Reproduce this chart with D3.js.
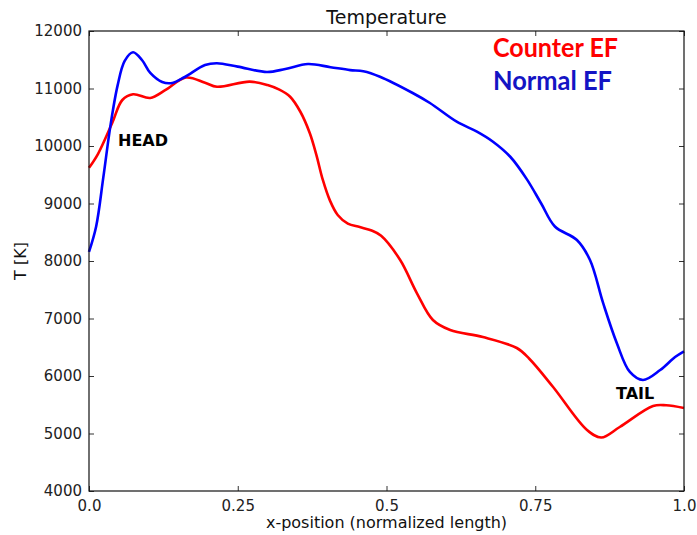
<!DOCTYPE html>
<html><head><meta charset="utf-8">
<script src="https://cdn.jsdelivr.net/npm/d3@7"></script>
<style>body{margin:0;background:#fff}svg{display:block}</style>
</head><body><svg id="c" width="697" height="535"></svg>
<script>
const counterX = [0.000,0.015,0.039,0.056,0.074,0.103,0.128,0.163,0.195,0.215,0.270,0.300,0.320,0.338,0.355,0.371,0.382,0.393,0.405,0.418,0.435,0.455,0.475,0.491,0.523,0.551,0.578,0.607,0.662,0.719,0.740,0.780,0.837,0.861,0.892,0.948,0.970,1.000];
const counterT = [9620,9860,10400,10800,10900,10835,10970,11190,11100,11030,11120,11060,10980,10857,10600,10226,9850,9409,9050,8800,8650,8590,8530,8440,8017,7443,6974,6800,6678,6487,6300,5809,5061,4930,5113,5478,5490,5443];
const normalX = [0.000,0.012,0.024,0.036,0.048,0.060,0.074,0.089,0.103,0.123,0.140,0.161,0.195,0.215,0.250,0.299,0.330,0.368,0.406,0.439,0.461,0.489,0.544,0.573,0.618,0.652,0.679,0.708,0.736,0.760,0.783,0.820,0.842,0.864,0.887,0.909,0.931,0.960,0.985,1.000];
const normalT = [8157,8600,9450,10350,11050,11480,11630,11496,11270,11113,11096,11200,11409,11440,11380,11287,11340,11426,11370,11320,11300,11205,10922,10748,10423,10250,10075,9813,9420,9000,8600,8365,8017,7270,6574,6070,5930,6104,6330,6430];
const xTicks = [0, 0.25, 0.5, 0.75, 1.0];
const xTickLabels = ["0.0","0.25","0.5","0.75","1.0"];
const yTicks = [4000,5000,6000,7000,8000,9000,10000,11000,12000];
const title = "Temperature";
const xLabel = "x-position (normalized length)";
const yLabel = "T [K]";

const svg = d3.select("#c");
const L = 89, R = 684, T = 31, B = 491;
const x = d3.scaleLinear().domain([0,1]).range([L,R]);
const y = d3.scaleLinear().domain([4000,12000]).range([B,T]);
const font = "'DejaVu Sans', sans-serif";

const line = d3.line().x(d=>x(d[0])).y(d=>y(d[1])).curve(d3.curveCatmullRom.alpha(0.5));
const g = svg.append("g");
g.append("path").datum(counterX.map((v,i)=>[v,counterT[i]])).attr("d",line)
  .attr("fill","none").attr("stroke","#ff0000").attr("stroke-width",2.6);
g.append("path").datum(normalX.map((v,i)=>[v,normalT[i]])).attr("d",line)
  .attr("fill","none").attr("stroke","#0000ff").attr("stroke-width",2.6);

const ax = (sel)=>sel.selectAll("text").attr("font-family",font).attr("font-size",15).attr("fill","#222");
svg.append("g").attr("transform",`translate(0,${B})`)
  .call(d3.axisBottom(x).tickValues(xTicks).tickFormat((d,i)=>xTickLabels[i]).tickSizeInner(-5).tickSizeOuter(0).tickPadding(9))
  .call(s=>{s.select(".domain").remove(); ax(s); s.selectAll("line").attr("stroke","#333");});
svg.append("g").attr("transform",`translate(0,${T})`)
  .call(d3.axisTop(x).tickValues(xTicks).tickFormat("").tickSizeInner(-5).tickSizeOuter(0))
  .call(s=>{s.select(".domain").remove(); s.selectAll("line").attr("stroke","#333");});
svg.append("g").attr("transform",`translate(${L},0)`)
  .call(d3.axisLeft(y).tickValues(yTicks).tickFormat(d3.format("d")).tickSizeInner(-5).tickSizeOuter(0).tickPadding(7))
  .call(s=>{s.select(".domain").remove(); ax(s); s.selectAll("line").attr("stroke","#333");});
svg.append("g").attr("transform",`translate(${R},0)`)
  .call(d3.axisRight(y).tickValues(yTicks).tickFormat("").tickSizeInner(-5).tickSizeOuter(0))
  .call(s=>{s.select(".domain").remove(); s.selectAll("line").attr("stroke","#333");});
svg.append("rect").attr("x",L).attr("y",T).attr("width",R-L).attr("height",B-T)
  .attr("fill","none").attr("stroke","#111").attr("stroke-width",1.2);

svg.append("text").attr("x",(L+R)/2).attr("y",24).attr("text-anchor","middle")
  .attr("font-family",font).attr("font-size",19).attr("fill","#111").text(title);
svg.append("text").attr("x",(L+R)/2).attr("y",528).attr("text-anchor","middle")
  .attr("font-family",font).attr("font-size",16).attr("fill","#111").text(xLabel);
svg.append("text").attr("transform",`translate(26,${(T+B)/2}) rotate(-90)`).attr("text-anchor","middle")
  .attr("font-family",font).attr("font-size",16).attr("fill","#111").text(yLabel);

svg.append("text").attr("x",118).attr("y",146).attr("font-family",font).attr("font-weight","bold")
  .attr("font-size",16).attr("fill","#000").text("HEAD");
svg.append("text").attr("x",616).attr("y",399).attr("font-family",font).attr("font-weight","bold")
  .attr("font-size",16).attr("fill","#000").text("TAIL");

svg.append("text").attr("x",493).attr("y",57).attr("font-family","Lato, sans-serif").attr("font-weight","bold")
  .attr("font-size",26).attr("fill","#ff0000").attr("textLength",125).attr("lengthAdjust","spacingAndGlyphs").text("Counter EF");
svg.append("text").attr("x",493).attr("y",90).attr("font-family","Lato, sans-serif").attr("font-weight","bold")
  .attr("font-size",26).attr("fill","#1414c4").attr("textLength",119).attr("lengthAdjust","spacingAndGlyphs").text("Normal EF");
</script></body></html>
